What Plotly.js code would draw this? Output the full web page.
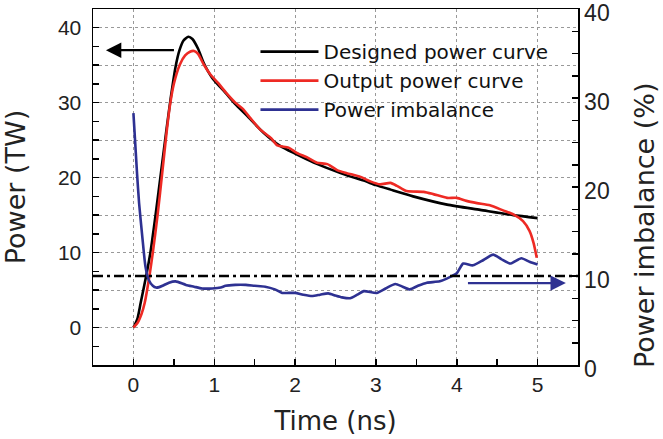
<!DOCTYPE html>
<html>
<head>
<meta charset="utf-8">
<script src="https://cdn.plot.ly/plotly-3.0.1.min.js"></script>
<style>
  html, body { margin: 0; padding: 0; background: #fff; }
  #chart { width: 663px; height: 439px; }
</style>
</head>
<body>
<div id="chart"></div>
<script>
// ---- Data ----
const designedTime = [0, 0.05, 0.09, 0.16, 0.21, 0.275, 0.345, 0.41, 0.46, 0.52, 0.57, 0.62, 0.68, 0.73, 0.8, 0.87, 0.975, 1.14, 1.26, 1.41, 1.61, 1.82, 2.0, 2.23, 2.44, 2.64, 2.85, 3.0, 3.18, 3.46, 3.88, 4.29, 4.7, 5.0];
const designedPower = [0, 1.2, 3.3, 7, 10, 15.1, 21, 26.5, 30.5, 34.7, 37, 38.3, 38.8, 38.5, 37.2, 35.3, 33.3, 31.3, 29.8, 28.2, 26, 24.2, 23.2, 22, 21.1, 20.3, 19.6, 19.0, 18.4, 17.5, 16.4, 15.7, 15.0, 14.6];

const outputTime = [0, 0.05, 0.1, 0.14, 0.2, 0.24, 0.3, 0.36, 0.41, 0.45, 0.5, 0.575, 0.64, 0.7, 0.75, 0.8, 0.87, 0.95, 1.05, 1.14, 1.26, 1.35, 1.45, 1.57, 1.7, 1.78, 1.92, 2.02, 2.15, 2.27, 2.4, 2.52, 2.64, 2.81, 2.93, 3.05, 3.18, 3.26, 3.38, 3.59, 3.71, 3.88, 4.0, 4.12, 4.25, 4.41, 4.58, 4.7, 4.82, 4.9, 4.95, 4.99];
const outputPower = [0, 0.6, 1.8, 3.3, 7, 10, 15.1, 21, 26, 29.5, 32.5, 35.1, 36.3, 36.8, 36.9, 36.5, 35.1, 33.8, 32.6, 31.4, 30.0, 29.2, 27.9, 26.4, 25.3, 24.3, 24.0, 23.3, 22.7, 22.0, 21.8, 21.0, 20.6, 20.1, 19.5, 19.1, 19.3, 18.9, 18.2, 18.1, 17.8, 17.3, 17.3, 16.9, 16.6, 16.3, 15.6, 15.1, 14.2, 12.9, 11.3, 9.3];

const imbalanceTime = [0, 0.045, 0.07, 0.11, 0.15, 0.19, 0.24, 0.28, 0.32, 0.36, 0.44, 0.52, 0.65, 0.75, 0.85, 0.975, 1.08, 1.14, 1.26, 1.39, 1.5, 1.63, 1.75, 1.84, 1.92, 2.0, 2.1, 2.21, 2.31, 2.41, 2.5, 2.58, 2.68, 2.77, 2.85, 3.01, 3.12, 3.24, 3.33, 3.42, 3.52, 3.63, 3.79, 3.92, 4.0, 4.08, 4.2, 4.33, 4.45, 4.55, 4.66, 4.8, 4.9, 5.0];
const imbalancePct = [28.3, 21.5, 18.2, 14.4, 11.0, 9.55, 8.9, 8.7, 8.75, 8.9, 9.25, 9.4, 9.0, 8.8, 8.6, 8.6, 8.7, 8.9, 9.0, 9.0, 8.9, 8.8, 8.5, 8.1, 8.1, 8.1, 7.9, 7.75, 7.9, 8.05, 7.8, 7.6, 7.5, 7.9, 8.3, 8.1, 8.6, 9.1, 8.8, 8.5, 8.9, 9.25, 9.4, 9.9, 10.3, 11.4, 11.2, 11.8, 12.4, 11.9, 11.4, 12.0, 11.6, 11.3];

const imbalanceLimit = 10;               // dash-dot reference level (%)
const powerArrow = { from: 0.52, to: -0.34, level: 37 };     // points to left axis
const imbalanceArrow = { from: 4.12, to: 5.35, level: 9.2 }; // points to right axis

const timeTicks = [0, 1, 2, 3, 4, 5];
const powerTicks = [0, 5, 10, 15, 20, 25, 30, 35, 40];
const powerTickText = ['0', '', '10', '', '20', '', '30', '', '40'];
const imbalanceTicks = [0, 10, 20, 30, 40];

const seriesNames = ['Designed power curve', 'Output power curve', 'Power imbalance'];
const seriesColors = ['#000000', '#ee2a24', '#2e3192'];
const axisTitles = { x: 'Time (ns)', y: 'Power (TW)', y2: 'Power imbalance (%)' };

// ---- Chart ----
const tickFont = { family: 'Liberation Sans, Arial, sans-serif', size: 21, color: '#222' };
const titleFont = { family: 'DejaVu Sans, sans-serif', size: 26, color: '#222' };

const traces = [
  { x: designedTime, y: designedPower, name: seriesNames[0], type: 'scatter', mode: 'lines',
    line: { color: seriesColors[0], width: 2.6, shape: 'spline', smoothing: 0.6 }, yaxis: 'y' },
  { x: outputTime, y: outputPower, name: seriesNames[1], type: 'scatter', mode: 'lines',
    line: { color: seriesColors[1], width: 2.6, shape: 'spline', smoothing: 0.6 }, yaxis: 'y' },
  { x: imbalanceTime, y: imbalancePct, name: seriesNames[2], type: 'scatter', mode: 'lines',
    line: { color: seriesColors[2], width: 2.6, shape: 'spline', smoothing: 0.6 }, yaxis: 'y2' }
];

const layout = {
  width: 663, height: 439,
  margin: { l: 93, r: 85, t: 9, b: 74 },
  paper_bgcolor: '#fff', plot_bgcolor: '#fff',
  showlegend: true,
  legend: {
    x: 0.335, y: 0.935, xanchor: 'left', yanchor: 'top',
    bgcolor: 'rgba(0,0,0,0)', borderwidth: 0,
    font: { family: 'DejaVu Sans, sans-serif', size: 20, color: '#111' },
    itemwidth: 58, tracegroupgap: 0
  },
  xaxis: {
    range: [-0.5, 5.5],
    tickmode: 'array', tickvals: timeTicks,
    ticks: 'inside', ticklen: 6, tickwidth: 1.5, tickcolor: '#000',
    minor: { dtick: 0.5, tick0: 0, ticks: 'inside', ticklen: 6, tickwidth: 1.5, tickcolor: '#000', showgrid: false },
    showgrid: true, gridcolor: '#999', griddash: 'dot', gridwidth: 1,
    zeroline: false,
    showline: true, linecolor: '#000', linewidth: 1.5, mirror: true,
    tickfont: tickFont,
    title: { text: axisTitles.x, font: titleFont, standoff: 17 }
  },
  yaxis: {
    range: [-5, 42.5],
    tickmode: 'array', tickvals: powerTicks, ticktext: powerTickText,
    ticks: 'inside', ticklen: 6, tickwidth: 1.5, tickcolor: '#000',
    ticklabelstandoff: 6,
    minor: { dtick: 2.5, tick0: 0, ticks: 'inside', ticklen: 6, tickwidth: 1.5, tickcolor: '#000', showgrid: false },
    showgrid: true, gridcolor: '#999', griddash: 'dot', gridwidth: 1,
    zeroline: false,
    showline: true, linecolor: '#000', linewidth: 1.5,
    tickfont: tickFont,
    title: { text: axisTitles.y, font: { family: 'DejaVu Sans, sans-serif', size: 27, color: '#222' }, standoff: 30 }
  },
  yaxis2: {
    overlaying: 'y', side: 'right',
    range: [0, 40],
    tickmode: 'array', tickvals: imbalanceTicks,
    ticks: 'inside', ticklen: 6, tickwidth: 1.5, tickcolor: '#000',
    ticklabeloverflow: 'allow', ticklabelshift: 4,
    minor: { dtick: 2.5, tick0: 0, ticks: 'inside', ticklen: 6, tickwidth: 1.5, tickcolor: '#000', showgrid: false },
    showgrid: false, zeroline: false,
    showline: true, linecolor: '#000', linewidth: 1.5,
    tickfont: { family: 'Liberation Sans, Arial, sans-serif', size: 23, color: '#222' }
  },
  shapes: [
    { type: 'line', xref: 'paper', x0: 0, x1: 1, yref: 'y2', y0: imbalanceLimit, y1: imbalanceLimit,
      line: { color: '#000', width: 2.6, dash: '10px,4px,3px,4px' } }
  ],
  annotations: [
    { xref: 'x', yref: 'y', x: powerArrow.to, y: powerArrow.level,
      axref: 'x', ayref: 'y', ax: powerArrow.from, ay: powerArrow.level,
      text: '', showarrow: true, arrowhead: 2, arrowsize: 1.4, arrowwidth: 2.2, arrowcolor: seriesColors[0] },
    { xref: 'x', yref: 'y2', x: imbalanceArrow.to, y: imbalanceArrow.level,
      axref: 'x', ayref: 'y2', ax: imbalanceArrow.from, ay: imbalanceArrow.level,
      text: '', showarrow: true, arrowhead: 2, arrowsize: 1.4, arrowwidth: 2.2, arrowcolor: seriesColors[2] },
    // right-hand axis title, placed like the reference (below the axis centre)
    { xref: 'paper', yref: 'paper', x: 1, y: 0.393, xanchor: 'center', yanchor: 'middle',
      xshift: 66, text: axisTitles.y2, textangle: -90, showarrow: false,
      font: { family: 'DejaVu Sans, sans-serif', size: 27, color: '#222' } }
  ]
};

Plotly.newPlot('chart', traces, layout, { displayModeBar: false, staticPlot: true });
</script>
</body>
</html>
